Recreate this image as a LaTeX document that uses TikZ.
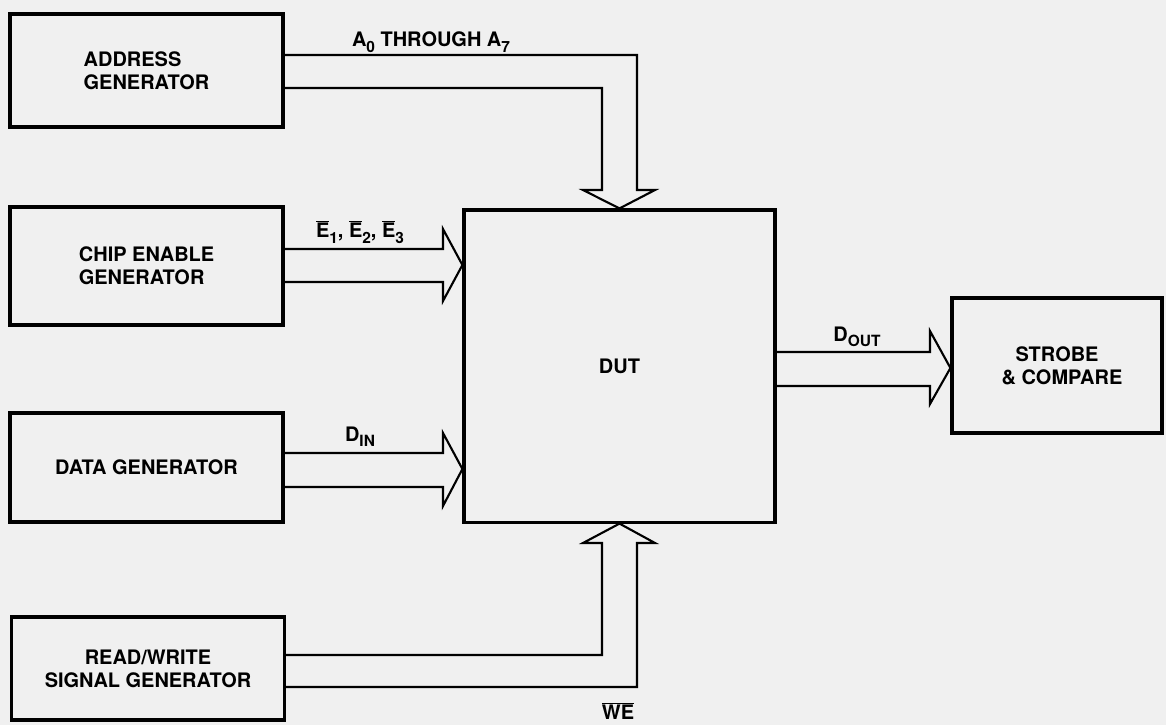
\documentclass[tikz,border=0pt]{standalone}
\usepackage{fontspec}
\setmainfont{TeX Gyre Heros}
\usetikzlibrary{calc}

\newcommand{\boxfont}{\fontsize{14.2}{16.5}\selectfont\bfseries}
\newcommand{\busidx}[1]{\raisebox{-0.5ex}{\fontsize{11}{11}\selectfont #1}}
\newcommand{\barsig}[1]{\ensuremath{\overline{\mbox{#1}}}}

\tikzset{
  genbox/.style={
    draw=black, line width=2.2pt,
    minimum width=6.825cm, inner sep=0pt,
    font=\boxfont, align=left
  },
  dutbox/.style={
    draw=black, line width=2.2pt,
    minimum width=7.775cm, minimum height=7.8cm,
    font=\boxfont
  },
  bus/.style={draw=black, line width=1.5pt, line join=miter},
  buslabel/.style={font=\boxfont, inner sep=0pt},
}

\begin{document}
\begin{tikzpicture}[x=0.025cm, y=-0.025cm]

  % ── Frame (pixel units, y runs down) ─────────────────────────────────────────
  \useasboundingbox (0,0) rectangle (1166,725);
  \fill[black!6] (0,0) rectangle (1166,725);

  % ── Column positions ────────────────────────────────────────────────────────
  \def\colA{146.5}    % generators
  \def\colB{619.5}    % DUT
  \def\colC{1057}     % strobe

  % ── Blocks ──────────────────────────────────────────────────────────────────
  \node[genbox, minimum height=2.825cm] (addr) at (\colA,70.5)
    {ADDRESS\\GENERATOR};
  \node[genbox, minimum height=2.95cm] (chip) at (\colA,266)
    {CHIP ENABLE\\GENERATOR};
  \node[genbox, minimum height=2.725cm] (data) at (\colA,467.5)
    {DATA GENERATOR};
  \node[genbox, minimum height=2.575cm, align=center] (rw) at (148,668.5)
    {READ/WRITE\\SIGNAL GENERATOR};
  \node[dutbox] (dut) at (\colB,366) {DUT};
  \node[genbox, minimum width=5.25cm, minimum height=3.375cm, align=center]
    (strobe) at (\colC,365.5) {STROBE\\\hspace*{0.5em}\& COMPARE};

  % ── Buses ───────────────────────────────────────────────────────────────────
  % address bus, down into the DUT
  \draw[bus] (addr.east |- 0,55) -- (637,55) -- (637,190) -- (655,190)
    -- (dut.north) -- (583,190) -- (602,190) -- (602,88) -- (addr.east |- 0,88);
  \node[buslabel] (alabel) at (431,42)
    {A\busidx{0} THROUGH A\busidx{7}};

  % chip enables
  \draw[bus] (chip.east |- 0,249) -- (443,249) -- (443,229)
    -- (dut.west |- 0,265) -- (443,301) -- (443,282) -- (chip.east |- 0,282);
  \node[buslabel] (elabel) at (360,232)
    {\barsig{E}\busidx{1}, \barsig{E}\busidx{2}, \barsig{E}\busidx{3}};

  % data in
  \draw[bus] (data.east |- 0,453) -- (443,453) -- (443,433)
    -- (dut.west |- 0,469) -- (443,506) -- (443,487) -- (data.east |- 0,487);
  \node[buslabel] (dinlabel) at (360,437) {D\busidx{IN}};

  % write enable, up into the DUT
  \draw[bus] (rw.east |- 0,655) -- (602,655) -- (602,543) -- (583,543)
    -- (dut.south) -- (655,543) -- (637,543) -- (637,687) -- (rw.east |- 0,687);
  \node[buslabel] (welabel) at (618,711) {\barsig{WE}};

  % data out
  \draw[bus] (dut.east |- 0,352) -- (930,352) -- (930,331)
    -- (strobe.west |- 0,368) -- (930,404) -- (930,386) -- (dut.east |- 0,386);
  \node[buslabel] (doutlabel) at (857,337) {D\busidx{OUT}};

\end{tikzpicture}
\end{document}
